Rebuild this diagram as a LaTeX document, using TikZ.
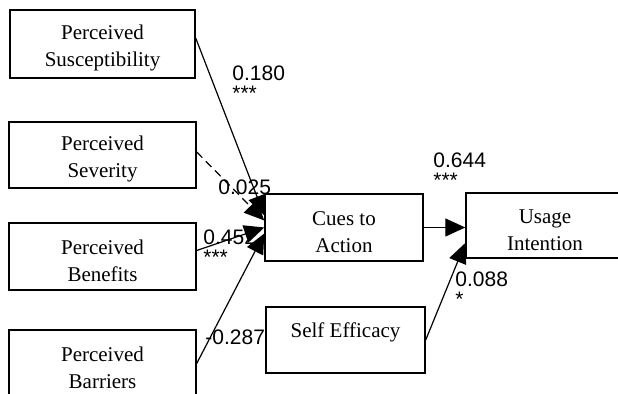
\documentclass[tikz,border=0pt]{standalone}
\usepackage{fontspec}
\setmainfont{Liberation Serif}
\newfontfamily\labelfont{Liberation Sans}
\usepackage{tikz}
\usetikzlibrary{arrows.meta}

\newcommand{\boxgap}{\rule{0pt}{11.5pt}}

\tikzset{
  factor/.style={draw, line width=0.7pt, rectangle, align=center, inner sep=0pt,
    font=\fontsize{10.5}{13.5}\selectfont},
  weight/.style={inner sep=0pt, align=left, anchor=base west,
    font=\labelfont\fontsize{10.5}{10}\selectfont},
  path/.style={line width=0.6pt, -{Triangle[length=10pt,width=9pt]}}
}

\begin{document}
\begin{tikzpicture}[x=0.5pt,y=-0.5pt]
            \useasboundingbox (0,0) rectangle (618,394);

            \node[factor, minimum width=92.5pt, minimum height=34pt] at (102.5,44) (sus) {\boxgap Perceived\\Susceptibility};
            \node[factor, minimum width=93.5pt, minimum height=33pt] at (102.5,155) (sev) {\boxgap Perceived\\Severity};
            \node[factor, minimum width=93.5pt, minimum height=33.5pt] at (102.5,256.5) (ben) {\boxgap Perceived\\Benefits};
            \node[factor, minimum width=93.5pt, minimum height=33.5pt] at (102.5,363.5) (bar) {\boxgap Perceived\\Barriers};
            \node[factor, minimum width=79pt, minimum height=33.5pt] at (344,227.5) (cue) {\boxgap Cues to\\Action};
            \node[factor, minimum width=79pt, minimum height=32.5pt] at (545,225.5) (use) {\boxgap Usage\\Intention};
            \node[factor, minimum width=79.5pt, minimum height=33pt] at (345.5,340) (eff) {\boxgap Self Efficacy\\\mbox{}};

            \draw[path] ([yshift=3pt]sus.east) -- ([yshift=6pt]cue.west);
            \draw[path, dash pattern=on 4pt off 2.5pt] ([yshift=1.5pt]sev.east) -- ([yshift=3.5pt]cue.west);
            \draw[path] ([yshift=3pt]ben.east) -- (cue.west);
            \draw[path] (bar.east) -- ([yshift=-3pt]cue.west);
            \draw[path] (cue.east) -- (cue.east -| use.west);
            \draw[path] (eff.east) -- ([yshift=-8.75pt]use.west);

            \node[weight] at (232,100.5) (w1) {0.180\\***};
            \node[weight] at (218,194.5) (w2) {0.025};
            \node[weight] at (203,264.5) (w3) {0.452\\***};
            \node[weight] at (205,344.5) (w4) {-0.287};
            \node[weight] at (433,187.5) (w5) {0.644\\***};
            \node[weight] at (455,306.5) (w6) {0.088\\*};
        \end{tikzpicture}
\end{document}
